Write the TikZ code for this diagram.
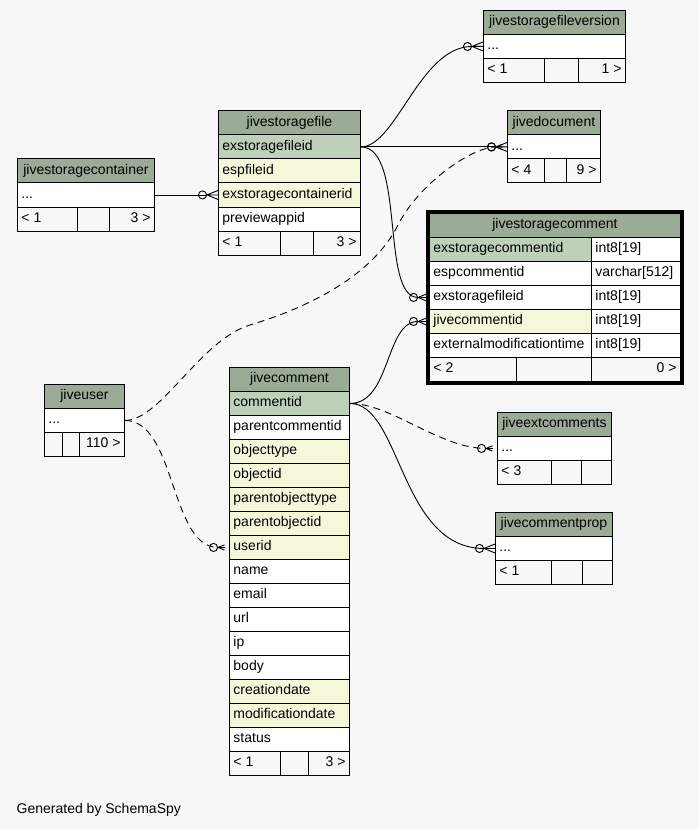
\documentclass[tikz,border=0pt]{standalone}
\usepackage{fontspec}
\setmainfont{Liberation Sans}
\usetikzlibrary{arrows.meta}

\definecolor{bgcol}{HTML}{F7F7F7}
\definecolor{hdrcol}{HTML}{9CAB96}
\definecolor{pkcol}{HTML}{BED1B8}
\definecolor{idxcol}{HTML}{F4F7DA}

% crow's foot tip (many side)
\pgfdeclarearrow{
  name = Crow,
  parameters = {\the\pgfarrowlength,\the\pgfarrowwidth},
  setup code = {
    \pgfarrowssettipend{0pt}
    \pgfarrowssetbackend{-\pgfarrowlength}
    \pgfarrowssetlineend{-\pgfarrowlength}
    \pgfarrowssavethe\pgfarrowlength
    \pgfarrowssavethe\pgfarrowwidth
  },
  drawing code = {
    \pgfpathmoveto{\pgfpoint{-\pgfarrowlength}{0pt}}
    \pgfpathlineto{\pgfpoint{0pt}{.5\pgfarrowwidth}}
    \pgfpathmoveto{\pgfpoint{-\pgfarrowlength}{0pt}}
    \pgfpathlineto{\pgfpointorigin}
    \pgfpathmoveto{\pgfpoint{-\pgfarrowlength}{0pt}}
    \pgfpathlineto{\pgfpoint{0pt}{-.5\pgfarrowwidth}}
    \pgfusepathqstroke
  },
  defaults = {length=11pt,width=9pt}
}

\tikzset{
  cell/.style={draw=black,line width=.9pt,inner sep=0pt,minimum height=24pt,
    text height=10pt,text depth=3pt,anchor=north west,
    font=\fontsize{14}{16}\selectfont},
  fk/.style={line width=.9pt,
    -{Circle[open,length=9pt,sep=0pt]Crow[sep=0pt]}},
  fkdash/.style={fk,dash pattern=on 7pt off 5pt}
}

\newcommand\tabhead[5]{\node[cell,fill=hdrcol] (#1) at (#2,#3) {\makebox[#4pt]{#5}};}
\newcommand\tabrow[6]{\node[cell,fill=#5] (#1) at (#2,#3) {\makebox[#4pt][l]{\hspace{4pt}#6}};}
\newcommand\tabfoot[8]{%
  \pgfmathsetmacro\wa{#4-#3}\pgfmathsetmacro\wb{#5-#4}\pgfmathsetmacro\wc{#6-#5}%
  \node[cell,fill=bgcol] (#1-l) at (#3,#2) {\makebox[\wa pt][l]{\hspace{4pt}#7}};
  \node[cell,fill=bgcol] (#1-m) at (#4,#2) {\makebox[\wb pt]{}};
  \node[cell,fill=bgcol] (#1-r) at (#5,#2) {\makebox[\wc pt][r]{#8\hspace{4pt}}};}

\begin{document}
\begin{tikzpicture}[x=1pt,y=-1pt]
  \fill[bgcol] (0,0) rectangle (699,829);
  \useasboundingbox (0,0) rectangle (699,829);

  % jivestoragefileversion
  \tabhead{sfv}{483}{10}{142}{jivestoragefileversion}
  \tabrow{sfv-row}{483}{34}{142}{white}{...}
  \tabfoot{sfv-foot}{58}{483}{544}{578}{625}{< 1}{1 >}

  % jivedocument
  \tabhead{doc}{507}{110.5}{93}{jivedocument}
  \tabrow{doc-row}{507}{134.5}{93}{white}{...}
  \tabfoot{doc-foot}{158.5}{507}{544}{566}{600}{< 4}{9 >}

  % jivestoragefile
  \tabhead{sf}{218}{110.5}{142}{jivestoragefile}
  \foreach \f/\c [count=\i] in {exstoragefileid/pkcol,espfileid/idxcol,
      exstoragecontainerid/idxcol,previewappid/white}{
    \pgfmathsetmacro\yy{110.5+24*\i}
    \tabrow{sf-\f}{218}{\yy}{142}{\c}{\f}
  }
  \tabfoot{sf-foot}{230.5}{218}{280}{313}{360}{< 1}{3 >}

  % jivestoragecontainer
  \tabhead{cont}{17}{158.5}{137}{jivestoragecontainer}
  \tabrow{cont-row}{17}{182.5}{137}{white}{...}
  \tabfoot{cont-foot}{206.5}{17}{77}{109}{154}{< 1}{3 >}

  % jivestoragecomment
  \tabhead{sc}{429}{213}{251}{jivestoragecomment}
  \foreach \f/\t/\c [count=\i] in {exstoragecommentid/int8[19]/pkcol,
      espcommentid/varchar[512]/white,exstoragefileid/int8[19]/white,
      jivecommentid/int8[19]/idxcol,externalmodificationtime/int8[19]/white}{
    \pgfmathsetmacro\yy{213+24*\i}
    \tabrow{sc-\f}{429}{\yy}{162}{\c}{\f}
    \tabrow{sc-\f-type}{591}{\yy}{89}{white}{\t}
  }
  \tabfoot{sc-foot}{357}{429}{516}{591}{680}{< 2}{0 >}

  % jiveuser
  \tabhead{usr}{44}{384}{80}{jiveuser}
  \tabrow{usr-row}{44}{408}{80}{white}{...}
  \tabfoot{usr-foot}{432}{44}{62}{79}{124}{}{110 >}

  % jivecomment
  \tabhead{cmt}{229}{367}{120}{jivecomment}
  \foreach \f/\c [count=\i] in {commentid/pkcol,parentcommentid/white,
      objecttype/idxcol,objectid/idxcol,parentobjecttype/idxcol,
      parentobjectid/idxcol,userid/idxcol,name/white,email/white,url/white,
      ip/white,body/white,creationdate/idxcol,modificationdate/idxcol,
      status/white}{
    \pgfmathsetmacro\yy{367+24*\i}
    \tabrow{cmt-\f}{229}{\yy}{120}{\c}{\f}
  }
  \tabfoot{cmt-foot}{751}{229}{280}{308}{349}{< 1}{3 >}

  % jiveextcomments
  \tabhead{ext}{497}{412}{114}{jiveextcomments}
  \tabrow{ext-row}{497}{436}{114}{white}{...}
  \tabfoot{ext-foot}{460}{497}{551}{581}{611}{< 3}{}

  % jivecommentprop
  \tabhead{prop}{495}{512}{117}{jivecommentprop}
  \tabrow{prop-row}{495}{536}{117}{white}{...}
  \tabfoot{prop-foot}{560}{495}{551}{582}{612}{< 1}{}

  % relationships
  \draw[fk] (sf-exstoragefileid.east) .. controls +(35,0) and +(-63,0) .. (sfv-row.west);
  \draw[fk] (sf-exstoragefileid.east) -- (doc-row.west);
  \draw[fk] (sf-exstoragefileid.east) .. controls +(45,0) and +(-49,0) .. (sc-exstoragefileid.west);
  \draw[fk] (cont-row.east) -- (sf-exstoragecontainerid.west);
  \draw[fkdash] (usr-row.east) .. controls +(36,0) and (200,340) .. (250,325)
    .. controls (310,307) and (373,275) .. (398,225)
    .. controls (418,185) and +(-36,0) .. (doc-row.west);
  \draw[fkdash] (usr-row.east) .. controls +(51,0) and +(-59,0) .. (cmt-userid.west);
  \draw[fk] (cmt-commentid.east) .. controls +(41,0) and +(-44,0) .. (sc-jivecommentid.west);
  \draw[fkdash] (cmt-commentid.east) .. controls +(41,0) and +(-57,0) .. (ext-row.west);
  \draw[fk] (cmt-commentid.east) .. controls +(51,0) and +(-95,0) .. (prop-row.west);

  % focus table border
  \draw[line width=3.5pt] (427.25,211.25) rectangle (681.75,382.75);

  \node[anchor=base west,inner sep=0pt,font=\fontsize{14}{16}\selectfont] (credit)
    at (16.5,813) {Generated by SchemaSpy};
\end{tikzpicture}
\end{document}
